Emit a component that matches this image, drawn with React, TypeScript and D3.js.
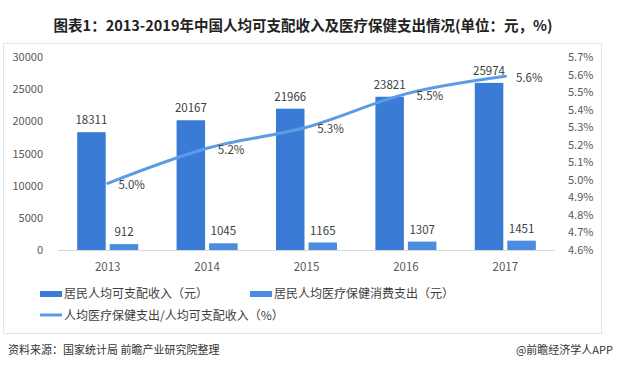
import * as React from "react";
import * as d3 from "d3";

const years = ["2013", "2014", "2015", "2016", "2017"];
const income = [18311, 20167, 21966, 23821, 25974];
const health = [912, 1045, 1165, 1307, 1451];
const ratio = [4.98, 5.18, 5.3, 5.49, 5.59];
const leftTicks = [0, 5000, 10000, 15000, 20000, 25000, 30000];
const rightTicks = [4.6, 4.7, 4.8, 4.9, 5.0, 5.1, 5.2, 5.3, 5.4, 5.5, 5.6, 5.7];

const title = "图表1：2013-2019年中国人均可支配收入及医疗保健支出情况(单位：元，%)";
const legendLabels = ["居民人均可支配收入（元）", "居民人均医疗保健消费支出（元）", "人均医疗保健支出/人均可支配收入（%）"];

const font = "'Noto Sans CJK SC', 'Noto Sans', sans-serif";
const c1 = "#3a7bd6";
const c2 = "#4a8de0";
const cLine = "#5b9ce6";

export default function App() {
  const W = 641, H = 372;
  const top = 57, bottom = 250, left = 58, right = 555;

  const x = d3.scaleBand().domain(years).range([left, right]);
  const x1 = d3.scaleBand().domain(["a", "b"]).range([0, x.bandwidth()]).paddingInner(0.123).paddingOuter(0.59);
  const y = d3.scaleLinear().domain([0, 30000]).range([bottom, top]);
  const yr = d3.scaleLinear().domain([4.6, 5.7]).range([bottom, top]);

  const cx = (i: number) => (x(years[i]) as number) + x.bandwidth() / 2;
  const line = d3.line<number>().x((_, i) => cx(i)).y((d) => yr(d)).curve(d3.curveMonotoneX);

  return (
    <svg width={W} height={H} style={{ position: "absolute", left: 0, top: 0, background: "#fff" }} fontFamily={font}>
      <text x={303} y={31} textAnchor="middle" fontSize={14.5} fontWeight="bold" fill="#222">{title}</text>
      <rect x={3.5} y={43.5} width={598} height={290} fill="none" stroke="#e4e4e4" />

      {/* left axis */}
      {leftTicks.map((t) => (
        <text key={t} x={43} y={y(t) + 4} textAnchor="end" fontSize={11} fill="#595959">{t}</text>
      ))}
      {/* right axis */}
      {rightTicks.map((t) => (
        <text key={t} x={568} y={yr(t) + 4} fontSize={11} fill="#595959">{t.toFixed(1) + "%"}</text>
      ))}
      <line x1={left} x2={right} y1={bottom + 0.5} y2={bottom + 0.5} stroke="#d9d9d9" />

      {years.map((yy, i) => {
        const bx = x(yy) as number;
        const xa = bx + (x1("a") as number);
        const xb = bx + (x1("b") as number);
        const bw = x1.bandwidth();
        return (
          <g key={yy}>
            <rect x={xa} y={y(income[i])} width={bw} height={bottom - y(income[i])} fill={c1} />
            <rect x={xb} y={y(health[i])} width={bw} height={bottom - y(health[i])} fill={c2} />
            <text x={xa + bw / 2} y={y(income[i]) - 8} textAnchor="middle" fontSize={11.5} fill="#404040">{income[i]}</text>
            <text x={xb + bw / 2} y={y(health[i]) - 8} textAnchor="middle" fontSize={11.5} fill="#404040">{health[i]}</text>
            <text x={cx(i)} y={271} textAnchor="middle" fontSize={11.5} fill="#595959">{yy}</text>
          </g>
        );
      })}

      <path d={line(ratio) || ""} fill="none" stroke={cLine} strokeWidth={3} strokeLinecap="round" />
      {ratio.map((r, i) => (
        <text key={i} x={cx(i) + 24} y={yr(r) + 6} textAnchor="middle" fontSize={11.5} fill="#404040">{r.toFixed(1) + "%"}</text>
      ))}

      {/* legend */}
      <rect x={40} y={291} width={22} height={6} fill={c1} />
      <text x={64} y={298} fontSize={12} fill="#404040">{legendLabels[0]}</text>
      <rect x={250} y={291} width={22} height={6} fill={c2} />
      <text x={274} y={298} fontSize={12} fill="#404040">{legendLabels[1]}</text>
      <line x1={40} x2={62} y1={315} y2={315} stroke={cLine} strokeWidth={3} />
      <text x={64} y={320} fontSize={12} fill="#404040">{legendLabels[2]}</text>

      <text x={8} y={354} fontSize={11} fill="#333">资料来源：国家统计局 前瞻产业研究院整理</text>
      <text x={613} y={354} textAnchor="end" fontSize={11} fill="#333">@前瞻经济学人APP</text>
    </svg>
  );
}
